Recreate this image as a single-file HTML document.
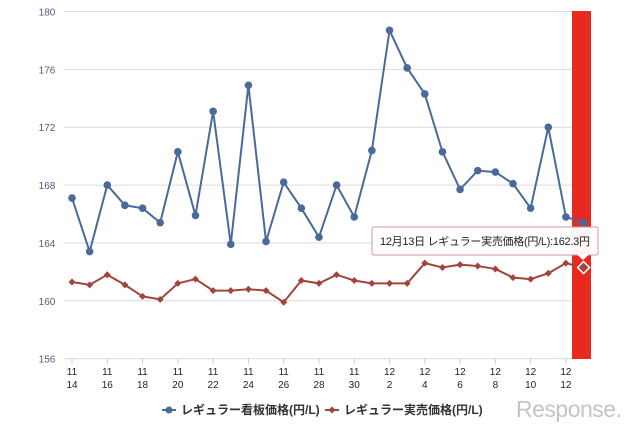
<!DOCTYPE html>
<html><head><meta charset="utf-8"><style>
body{margin:0;background:#fff;width:640px;height:426px;overflow:hidden;font-family:"Liberation Sans","Noto Sans CJK JP",sans-serif}
</style></head><body>
<svg id="c" width="640" height="426" xmlns="http://www.w3.org/2000/svg" font-family="Liberation Sans, Noto Sans CJK JP, sans-serif"></svg>
<script>
var s=document.getElementById('c'),h='';
function Y(v){return 358.6-(v-156)*14.46}
function X(i){return 72+i*17.64}
[180,176,172,168,164,160,156].forEach(function(v){var y=Y(v);
h+='<line x1="64" x2="576" y1="'+y+'" y2="'+y+'" stroke="#dcdcdc" stroke-width="1"/>';
h+='<text x="47" y="'+(y+4)+'" font-size="10" fill="#4a5f80" text-anchor="middle">'+v+'</text>';});
h+='<rect x="572" y="11" width="19" height="348" fill="#e8291f"/>';
var labs=[['11','14'],['11','16'],['11','18'],['11','20'],['11','22'],['11','24'],['11','26'],['11','28'],['11','30'],['12','2'],['12','4'],['12','6'],['12','8'],['12','10'],['12','12']];
labs.forEach(function(l,k){var x=X(k*2);h+='<line x1="'+x+'" x2="'+x+'" y1="359" y2="364" stroke="#ccc"/>';
h+='<text x="'+x+'" y="375" font-size="10" fill="#222" text-anchor="middle">'+l[0]+'</text><text x="'+x+'" y="388" font-size="10" fill="#222" text-anchor="middle">'+l[1]+'</text>';});
var b=[167.1,163.4,168.0,166.6,166.4,165.4,170.3,165.9,173.1,163.9,174.9,164.1,168.2,166.4,164.4,168.0,165.8,170.4,178.7,176.1,174.3,170.3,167.7,169.0,168.9,168.1,166.4,172.0,165.8,165.4];
var r=[161.3,161.1,161.8,161.1,160.3,160.1,161.2,161.5,160.7,160.7,160.8,160.7,159.9,161.4,161.2,161.8,161.4,161.2,161.2,161.2,162.6,162.3,162.5,162.4,162.2,161.6,161.5,161.9,162.6,162.3];
h+='<polyline fill="none" stroke="#4a6a9b" stroke-width="2" points="'+b.map(function(v,i){return X(i)+','+Y(v)}).join(' ')+'"/>';
b.forEach(function(v,i){h+='<circle cx="'+X(i)+'" cy="'+Y(v)+'" r="3.8" fill="#4a6a9b"/>';});
h+='<polyline fill="none" stroke="#a2443c" stroke-width="2" points="'+r.map(function(v,i){return X(i)+','+Y(v)}).join(' ')+'"/>';
r.forEach(function(v,i){var x=X(i),y=Y(v);if(i<29)h+='<path d="M'+x+' '+(y-3.5)+'L'+(x+3.5)+' '+y+'L'+x+' '+(y+3.5)+'L'+(x-3.5)+' '+y+'Z" fill="#a2443c"/>';});
var x=X(29),y=Y(162.3);
h+='<rect x="372" y="227" width="226" height="28" rx="2" fill="#fff" fill-opacity="0.96" stroke="#c99" stroke-width="1"/>';
h+='<path d="M577 254.5L583 260L589 254.5Z" fill="#fff"/>';
h+='<text x="380" y="245" font-size="11" textLength="210" fill="#222">12月13日 レギュラー実売価格(円/L):162.3円</text>';
h+='<path d="M'+x+' '+(y-6)+'L'+(x+6)+' '+y+'L'+x+' '+(y+6)+'L'+(x-6)+' '+y+'Z" fill="#a2443c" stroke="#fff" stroke-width="1.5"/>';
h+='<line x1="162" x2="176" y1="410" y2="410" stroke="#4a6a9b" stroke-width="2"/><circle cx="169" cy="410" r="3.5" fill="#4a6a9b"/>';
h+='<text x="181" y="414" font-size="12" font-weight="bold" fill="#333">レギュラー看板価格(円/L)</text>';
h+='<line x1="325" x2="339" y1="410" y2="410" stroke="#a2443c" stroke-width="2"/><path d="M332 406.5L335.5 410L332 413.5L328.5 410Z" fill="#a2443c"/>';
h+='<text x="344" y="414" font-size="12" font-weight="bold" fill="#333">レギュラー実売価格(円/L)</text>';
h+='<text x="516" y="417" font-size="23" fill="#c4c4c4" letter-spacing="-0.5">Response.</text>';
s.innerHTML=h;
</script>
</body></html>
